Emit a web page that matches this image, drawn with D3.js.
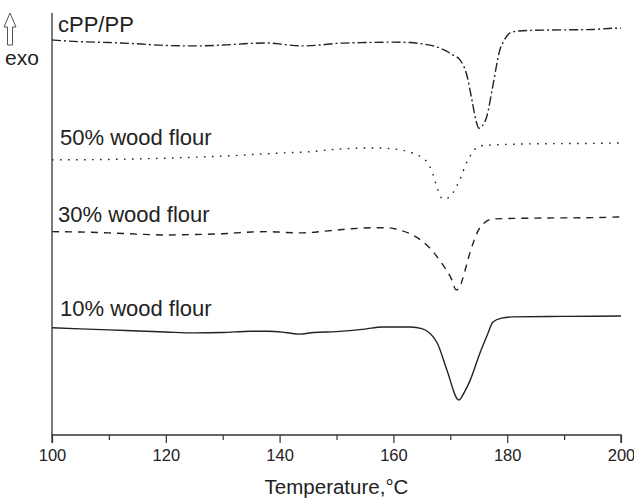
<!DOCTYPE html>
<html><head><meta charset="utf-8">
<script src="https://cdn.jsdelivr.net/npm/d3@7"></script>
<style>body{margin:0;background:#fff}svg{display:block}text{font-family:"Liberation Sans",Arial,sans-serif;fill:#222}</style>
</head><body><svg id="c" width="634" height="498"></svg>
<script>
// Temperature (°C) and heat flow (arbitrary units, exo up)
const tPP = [100,105,110,115,120,125,130,135,138,141,144,147,150,155,160,163,165,167,169,170.5,171.7,172.9,173.8,174.5,175.0,175.6,176.4,177.5,178.7,179.5,180.5,181.7,185,190,195,199.3,200];
const hPP = [93.6,93.2,93.0,92.7,92.3,92.2,92.4,92.8,92.9,92.5,92.2,92.4,92.8,93.0,93.1,93.0,92.7,92.2,91.2,90.0,88.9,85.3,79.4,74.6,72.7,73.2,75.4,82.9,91.2,93.6,95.3,95.7,95.9,96.0,96.1,96.4,96.4];

const t50 = [100,110,120,130,140,145,150,155,157.6,160,163.4,165.9,167.0,167.8,168.7,169.6,171.4,173.1,175.2,177,185,195,200];
const h50 = [65.2,65.3,65.6,66.1,66.8,67.1,67.7,68.0,68.0,67.8,66.8,64.7,61.6,58.1,55.9,56.2,59.7,65.2,68.5,68.7,69.0,69.1,69.2];

const t30 = [100,105,110,115,120,125,130,135,138,141,144,148,152,156,158.9,161,163.4,166.4,168.7,170.3,171.0,171.6,172.1,173.5,175.2,177.5,185,195,200];
const h30 = [48.2,48.1,47.9,47.6,47.4,47.5,47.7,48.1,48.2,48.0,47.9,48.3,48.8,49.1,49.1,48.6,47.4,44.3,40.3,36.7,34.4,34.8,36.7,43.4,49.1,51.2,51.4,51.5,51.7];

const t10 = [100,110,120,125,130,135,138,141,143.5,146,150,155,158,163,165,167.7,169.4,171.5,172.5,173.5,175.2,176.5,177.5,179,181,190,200];
const h10 = [25.4,24.9,24.4,24.2,24.3,24.6,24.6,24.3,23.9,24.3,24.5,25.1,25.6,25.6,25.2,21.8,15.4,8.3,10.2,13.0,19.4,23.7,26.8,27.7,28.0,28.1,28.2];

const seriesNames = ["cPP/PP","50% wood flour","30% wood flour","10% wood flour"];
const xTicks = [100,120,140,160,180,200];
const xMinor = [110,130,150,170,190];
const xLabel = "Temperature,°C";

const series = [
  {name:seriesNames[0], t:tPP, h:hPP, dash:"9,3,2,3", lx:58, ly:32},
  {name:seriesNames[1], t:t50, h:h50, dash:"1.6,6.4", lx:60, ly:145},
  {name:seriesNames[2], t:t30, h:h30, dash:"7,6", lx:58, ly:222},
  {name:seriesNames[3], t:t10, h:h10, dash:null, lx:60, ly:316}
];

const svg = d3.select("#c");
const L=52, R=621, T=13, B=435;
const x = d3.scaleLinear().domain([100,200]).range([L,R]);
const y = d3.scaleLinear().domain([0,100]).range([B,T]);

const line = d3.line().x(d=>x(d[0])).y(d=>y(d[1])).curve(d3.curveMonotoneX);
series.forEach(s=>{
  const pts = s.t.map((v,i)=>[v,s.h[i]]);
  const p = svg.append("path").attr("d",line(pts)).attr("fill","none")
    .attr("stroke","#222").attr("stroke-width",1.4);
  if(s.dash) p.attr("stroke-dasharray",s.dash);
  svg.append("text").attr("x",s.lx).attr("y",s.ly).attr("font-size",22).text(s.name);
});

// axes
const ax = svg.append("g").attr("transform",`translate(0,${B})`)
  .call(d3.axisBottom(x).tickValues(xTicks).tickSize(8).tickPadding(6).tickFormat(d3.format("d")));
ax.select(".domain").attr("stroke","#333").attr("stroke-width",1.3).attr("d",`M${L},8V0H${R}V8`);
ax.selectAll(".tick line").attr("stroke","#333").attr("stroke-width",1.2);
ax.selectAll(".tick text").attr("font-size",16.5).attr("fill","#222").attr("font-family","Liberation Sans, Arial, sans-serif");
const axm = svg.append("g").attr("transform",`translate(0,${B})`)
  .call(d3.axisBottom(x).tickValues(xMinor).tickSize(5).tickFormat(""));
axm.select(".domain").remove();
axm.selectAll(".tick line").attr("stroke","#333").attr("stroke-width",1.2);

svg.append("line").attr("x1",L).attr("x2",L).attr("y1",T).attr("y2",B)
  .attr("stroke","#333").attr("stroke-width",1.3);

svg.append("text").attr("x",(L+R)/2).attr("y",494).attr("text-anchor","middle")
  .attr("font-size",20.5).text(xLabel);

// exo arrow
svg.append("path").attr("d","M10,13 L16,27 L12.5,27 L12.5,45 L7.5,45 L7.5,27 L4,27 Z")
  .attr("fill","#fff").attr("stroke","#555").attr("stroke-width",1);
svg.append("text").attr("x",5).attr("y",65).attr("font-size",21).text("exo");
</script></body></html>
